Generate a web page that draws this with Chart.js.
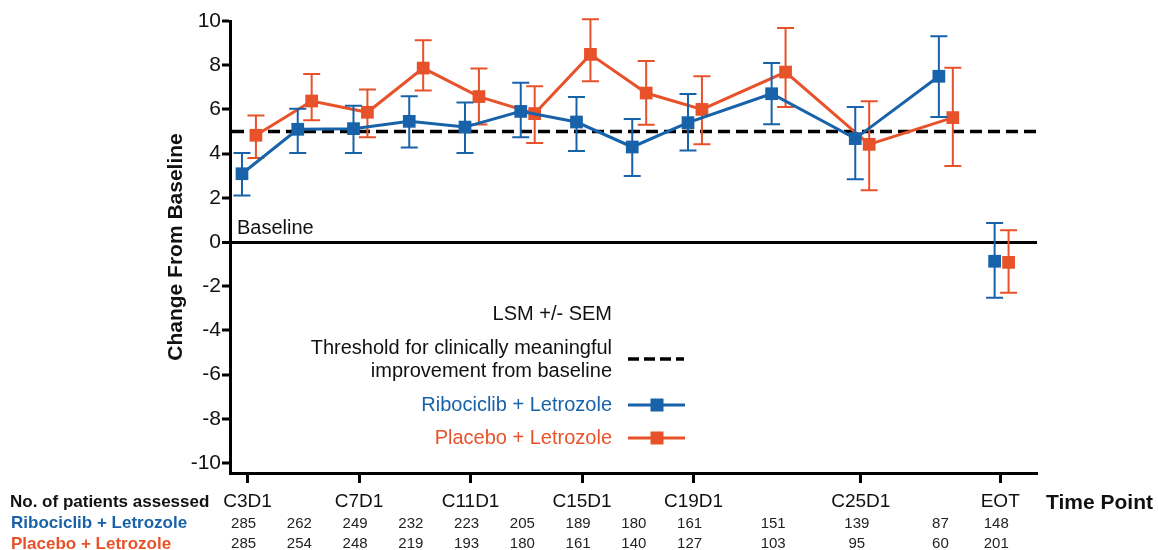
<!DOCTYPE html>
<html>
<head>
<meta charset="utf-8">
<script src="https://cdn.jsdelivr.net/npm/chart.js@4/dist/chart.umd.min.js"></script>
<style>
html,body{margin:0;padding:0;background:#fff;}
#wrap{width:1158px;height:550px;position:relative;}
</style>
</head>
<body>
<div id="wrap"><canvas id="c" width="1158" height="550"></canvas></div>
<script>
// ---- data ----
const CYCLES = [3, 5, 7, 9, 11, 13, 15, 17, 19, 22, 25, 28, 30];   // 30 = EOT
const TICK_VALUES = [3, 7, 11, 15, 19, 25, 30];
const TICK_LABELS = ['C3D1', 'C7D1', 'C11D1', 'C15D1', 'C19D1', 'C25D1', 'EOT'];
const Y_TICKS = [-10, -8, -6, -4, -2, 0, 2, 4, 6, 8, 10];

const RIBO_MEAN = [3.09, 5.10, 5.13, 5.46, 5.20, 5.91, 5.43, 4.30, 5.40, 6.71, 4.68, 7.50, -0.87];
const RIBO_LOW  = [2.11, 4.03, 4.03, 4.28, 4.03, 4.74, 4.12, 2.99, 4.14, 5.33, 2.84, 5.66, -2.52];
const RIBO_HIGH = [4.03, 6.03, 6.17, 6.59, 6.31, 7.21, 6.56, 5.57, 6.70, 8.10, 6.11, 9.31, 0.86];

const PLAC_MEAN = [4.83, 6.38, 5.87, 7.87, 6.58, 5.81, 8.49, 6.74, 6.00, 7.69, 4.42, 5.63, -0.92];
const PLAC_LOW  = [3.80, 5.51, 4.74, 6.86, 5.32, 4.48, 7.27, 5.31, 4.42, 6.11, 2.34, 3.44, -2.29];
const PLAC_HIGH = [5.72, 7.60, 6.90, 9.13, 7.85, 7.05, 10.08, 8.19, 7.50, 9.68, 6.37, 7.89, 0.53];

const RIBO_N = [285, 262, 249, 232, 223, 205, 189, 180, 161, 151, 139, 87, 148];
const PLAC_N = [285, 254, 248, 219, 193, 180, 161, 140, 127, 103, 95, 60, 201];

const THRESHOLD = 5;

// ---- styles ----
const BLUE = '#1862aa';
const ORANGE = '#e8522a';
const FONT = "'Liberation Sans', Arial, Helvetica, sans-serif";
const RIBO_DODGE = -0.2, PLAC_DODGE = 0.3;
const LAST = CYCLES.length - 1;

function makeDataset(label, means, lows, highs, color, dodge) {
  return {
    label: label,
    data: CYCLES.map((c, i) => ({ x: c + dodge, y: means[i] })),
    errLow: lows, errHigh: highs,
    borderColor: color, backgroundColor: color,
    borderWidth: 3, pointStyle: 'rect', pointRadius: 9,
    pointBorderWidth: 0, pointBackgroundColor: color,
    tension: 0, fill: false,
    segment: { borderColor: ctx => ctx.p1DataIndex === LAST ? 'rgba(0,0,0,0)' : color }
  };
}

const annot = {
  id: 'annot',
  beforeDatasetsDraw(chart) {
    const { ctx, chartArea, scales } = chart;
    const y = scales.y.getPixelForValue(THRESHOLD);
    ctx.save();
    ctx.strokeStyle = '#000'; ctx.lineWidth = 3.5; ctx.setLineDash([12, 6]);
    ctx.beginPath(); ctx.moveTo(chartArea.left + 2, y); ctx.lineTo(chartArea.right, y); ctx.stroke();
    ctx.setLineDash([]);
    ctx.fillStyle = '#111'; ctx.font = '20px ' + FONT;
    ctx.textAlign = 'left'; ctx.textBaseline = 'middle';
    ctx.fillText('Baseline', chartArea.left + 7, scales.y.getPixelForValue(0) - 14);
    ctx.restore();
  },
  beforeDatasetDraw(chart, args) {
    const ds = chart.data.datasets[args.index];
    const meta = args.meta;
    const ys = chart.scales.y;
    const ctx = chart.ctx;
    ctx.save();
    ctx.strokeStyle = ds.borderColor; ctx.lineWidth = 2;
    meta.data.forEach((pt, i) => {
      const yl = ys.getPixelForValue(ds.errLow[i]);
      const yh = ys.getPixelForValue(ds.errHigh[i]);
      ctx.beginPath();
      ctx.moveTo(pt.x, yl); ctx.lineTo(pt.x, yh);
      ctx.moveTo(pt.x - 8.5, yl); ctx.lineTo(pt.x + 8.5, yl);
      ctx.moveTo(pt.x - 8.5, yh); ctx.lineTo(pt.x + 8.5, yh);
      ctx.stroke();
    });
    ctx.restore();
  },
  afterDraw(chart) {
    const { ctx, scales } = chart;
    const xs = scales.x;
    ctx.save();
    // ---- legend inside plot ----
    const tx = 612;
    ctx.textAlign = 'right'; ctx.textBaseline = 'middle';
    ctx.font = '20px ' + FONT; ctx.fillStyle = '#111';
    ctx.fillText('LSM +/- SEM', tx, 314);
    ctx.fillText('Threshold for clinically meaningful', tx, 348);
    ctx.fillText('improvement from baseline', tx, 371);
    ctx.strokeStyle = '#000'; ctx.lineWidth = 3.5; ctx.setLineDash([11, 5]);
    ctx.beginPath(); ctx.moveTo(628, 359); ctx.lineTo(684, 359); ctx.stroke();
    ctx.setLineDash([]);
    [[ 'Ribociclib + Letrozole', BLUE, 405 ], [ 'Placebo + Letrozole', ORANGE, 438 ]].forEach(([t, col, yy]) => {
      ctx.fillStyle = col; ctx.fillText(t, tx, yy);
      ctx.strokeStyle = col; ctx.lineWidth = 3;
      ctx.beginPath(); ctx.moveTo(628, yy); ctx.lineTo(685, yy); ctx.stroke();
      ctx.fillRect(657 - 6.5, yy - 6.5, 13, 13);
    });
    // ---- patients table ----
    ctx.textAlign = 'left';
    ctx.font = 'bold 17px ' + FONT; ctx.fillStyle = '#111';
    ctx.fillText('No. of patients assessed', 10, 502);
    ctx.fillStyle = BLUE; ctx.fillText('Ribociclib + Letrozole', 11, 523);
    ctx.fillStyle = ORANGE; ctx.fillText('Placebo + Letrozole', 11, 544);
    ctx.font = 'bold 21px ' + FONT; ctx.fillStyle = '#111';
    ctx.fillText('Time Point', 1046, 503);
    ctx.textAlign = 'center'; ctx.font = '15px ' + FONT; ctx.fillStyle = '#222';
    CYCLES.forEach((c, i) => {
      const x = xs.getPixelForValue(c);
      ctx.fillText(String(RIBO_N[i]), x - 4, 524);
      ctx.fillText(String(PLAC_N[i]), x - 4, 544);
    });
    ctx.restore();
  }
};

Chart.defaults.font.family = FONT;
Chart.defaults.color = '#111';

new Chart(document.getElementById('c').getContext('2d'), {
  type: 'line',
  data: {
    datasets: [
      makeDataset('Ribociclib + Letrozole', RIBO_MEAN, RIBO_LOW, RIBO_HIGH, BLUE, RIBO_DODGE),
      makeDataset('Placebo + Letrozole', PLAC_MEAN, PLAC_LOW, PLAC_HIGH, ORANGE, PLAC_DODGE)
    ]
  },
  options: {
    responsive: false, animation: false, devicePixelRatio: 1,
    layout: { padding: { top: 21, right: 121, bottom: 0, left: 0 } },
    plugins: { legend: { display: false }, tooltip: { enabled: false } },
    scales: {
      x: {
        type: 'linear', min: 2.37, max: 31.32,
        afterBuildTicks: s => { s.ticks = TICK_VALUES.map(v => ({ value: v })); },
        afterFit: s => { s.height = 77; },
        ticks: {
          callback: v => TICK_LABELS[TICK_VALUES.indexOf(v)],
          font: { size: 19 }, color: '#111', padding: 7, maxRotation: 0, autoSkip: false
        },
        grid: { drawOnChartArea: false, tickLength: 10, tickWidth: 3, tickColor: '#000' },
        border: { color: '#000', width: 3 }
      },
      y: {
        min: -10.45, max: 10,
        afterBuildTicks: s => { s.ticks = Y_TICKS.map(v => ({ value: v })); },
        afterFit: s => { s.width = 230; },
        ticks: { font: { size: 21 }, color: '#111', padding: 1 },
        grid: {
          color: c => (c.tick && c.tick.value === 0) ? '#000' : 'rgba(0,0,0,0)',
          lineWidth: c => (c.tick && c.tick.value === 0) ? 3 : 0,
          tickLength: 8, tickWidth: 3, tickColor: '#000'
        },
        border: { color: '#000', width: 3 },
        title: {
          display: true, text: 'Change From Baseline', color: '#111',
          font: { size: 21, weight: 'bold' }, padding: { top: 164, bottom: 0 }
        }
      }
    }
  },
  plugins: [annot]
});
</script>
</body>
</html>
